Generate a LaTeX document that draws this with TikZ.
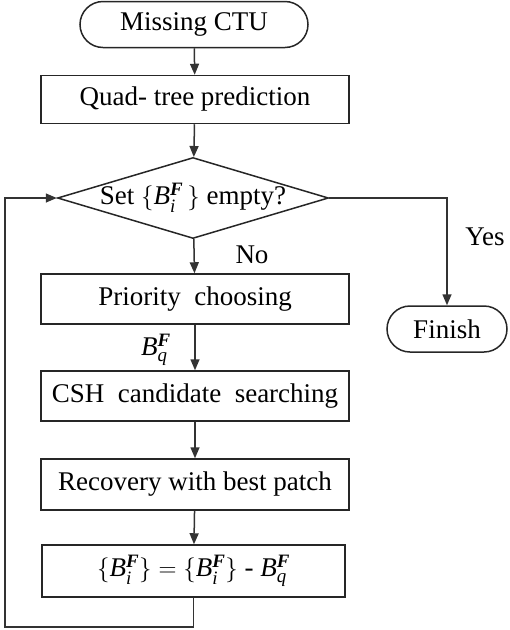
\documentclass[tikz,border=0pt]{standalone}
\usepackage{amsmath}
\usepackage{fontspec}
\setmainfont{Liberation Serif}
\usetikzlibrary{arrows.meta,shapes.geometric}

\newcommand{\setF}[1]{\mathit{B}^{\text{\bfseries\itshape F}}_{\text{\itshape #1}}}

\begin{document}
\begin{tikzpicture}[
    x=1pt, y=-1pt,
    font=\fontsize{27}{32}\selectfont,
    block/.style={rectangle, draw=black!85, line width=1.5pt, minimum width=308pt, minimum height=48pt, inner sep=0pt},
    terminal/.style={rectangle, rounded corners=23pt, draw=black!85, line width=1.5pt, minimum height=46pt, inner sep=0pt},
    decision/.style={diamond, draw=black!85, line width=1.5pt, minimum width=271pt, minimum height=81pt, aspect=3.35, inner sep=-4pt},
    arrow/.style={-{Triangle[length=11pt,width=9pt]}, line width=1.5pt, draw=black!80}
]
    \useasboundingbox (0,0) rectangle (510,630);

    % Start and end
    \node[terminal, minimum width=228pt] (start) at (194, 24.5) {Missing CTU};
    \node[terminal, minimum width=120pt] (finish) at (447, 329) {Finish};

    % Main column
    \node[block] (quad) at (195, 99.5) {Quad- tree prediction};
    \node[decision] (empty) at (193, 198) {Set $\{\setF{i}\,\}$ empty?};
    \node[block, minimum height=50pt] (prio) at (195, 299) {Priority\ \ choosing};
    \node[block, minimum height=50pt] (csh) at (195, 396) {CSH\ \ candidate\ \ searching};
    \node[block, minimum height=51pt] (recov) at (195, 484.5) {Recovery with best patch};
    \node[block, minimum width=303pt, minimum height=52pt] (update) at (193.5, 571)
        {$\{\setF{i}\} = \{\setF{i}\}$ - $\setF{q}$};

    % Labels
    \node (no) at (252, 255) {No};
    \node (yes) at (485, 237) {Yes};
    \node (bq) at (156, 350) {$\setF{q}$};

    % Loop corner
    \coordinate (loopbot) at (5, 627);

    % Edges down the main column
    \draw[arrow] (start) -- (quad);
    \draw[arrow] (quad) -- (empty);
    \draw[arrow] (empty) -- (prio);
    \draw[arrow] (prio) -- (csh);
    \draw[arrow] (csh) -- (recov);
    \draw[arrow] (recov) -- (update);

    % Yes branch
    \draw[arrow] (empty.east) -| (finish.north);

    % Back to the test
    \draw[arrow] (update.south) |- (loopbot) |- (empty.west);

\end{tikzpicture}
\end{document}
